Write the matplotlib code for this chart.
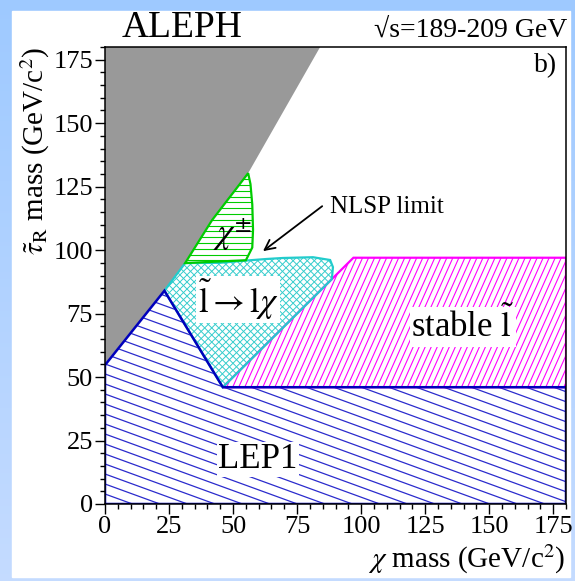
import numpy as np
import matplotlib
matplotlib.use('Agg')
import matplotlib.pyplot as plt
from matplotlib.patches import Polygon, Rectangle
from matplotlib.collections import LineCollection
from matplotlib.transforms import IdentityTransform

plt.rcParams['font.family'] = ['Liberation Serif', 'DejaVu Serif']
plt.rcParams['mathtext.fontset'] = 'stix'

# region outlines (chi mass, stau mass) in GeV/c^2
gray_x = [0, 23.4, 31.3, 41.8, 55.9, 84, 0]
gray_y = [54.7, 84.3, 94.9, 111.8, 130.3, 180, 180]

lep1_x = [0, 0, 23.2, 46, 180, 180]
lep1_y = [0, 54.7, 84.0, 46, 46, 0]

stable_x = [46, 97, 180, 180]
stable_y = [46, 97, 97, 46]

chargino_x = [31.3, 41.8, 55.9, 56.8, 57.5, 57.8, 57.5, 55.0, 31.3]
chargino_y = [94.9, 111.8, 130.3, 126.0, 118.0, 108.0, 101.0, 96.0, 94.9]

slep_x = [23.2, 31.3, 45.0, 56.6, 63.0, 69.5, 81.2, 87.9, 89.0, 88.7, 88.5, 46]
slep_y = [84.0, 94.9, 95.0, 96.0, 96.5, 96.9, 97.2, 96.1, 93.3, 90.0, 88.5, 46]

ticks = [0, 25, 50, 75, 100, 125, 150, 175]
nlsp_tail = (84.8, 117.3)
nlsp_head = (61.7, 99.6)

fig = plt.figure(figsize=(5.75, 5.81), dpi=100)

# blue frame round a white page
bg = fig.add_axes([0, 0, 1, 1])
grad = np.linspace(0, 1, 256).reshape(-1, 1)
top_c = np.array([0.62, 0.79, 1.0])
bot_c = np.array([0.77, 0.86, 1.0])
img = top_c[None, None, :] * (1 - grad[:, :, None]) + bot_c[None, None, :] * grad[:, :, None]
bg.imshow(img, aspect='auto', extent=[0, 1, 0, 1])
bg.add_patch(Rectangle((12 / 575, 4 / 581), 558 / 575, 566 / 581, color='white'))
bg.set_xlim(0, 1)
bg.set_ylim(0, 1)
bg.axis('off')

ax = fig.add_axes([105 / 575, 77 / 581, 461 / 575, 457 / 581])
ax.set_xlim(0, 180)
ax.set_ylim(0, 180)


def hatch(ax, patch, angle, spacing, color, lw):
    # straight hatch lines in pixel space, clipped to the patch
    bb = ax.bbox
    corners = np.array([[bb.x0, bb.y0], [bb.x1, bb.y0], [bb.x0, bb.y1], [bb.x1, bb.y1]])
    a = np.deg2rad(angle)
    d = np.array([np.cos(a), np.sin(a)])
    n = np.array([-np.sin(a), np.cos(a)])
    pn = corners @ n
    pd = corners @ d
    segs = []
    for o in np.arange(pn.min(), pn.max() + spacing, spacing):
        segs.append([o * n + pd.min() * d, o * n + pd.max() * d])
    lc = LineCollection(segs, colors=color, linewidths=lw, transform=IdentityTransform())
    lc.set_clip_path(patch)
    ax.add_collection(lc, autolim=False)


gray = Polygon(np.column_stack([gray_x, gray_y]), closed=True, fc='#999999', ec='none')
ax.add_patch(gray)

stable = Polygon(np.column_stack([stable_x, stable_y]), closed=True, fc='none', ec='#ff00ff', lw=1.6, zorder=3)
ax.add_patch(stable)
hatch(ax, stable, 66, 5.5, '#ff00ff', 0.8)

slep = Polygon(np.column_stack([slep_x, slep_y]), closed=True, fc='none', ec='#22cccc', lw=1.6, zorder=3)
ax.add_patch(slep)
hatch(ax, slep, 45, 5.0, '#33cccc', 0.7)
hatch(ax, slep, -45, 5.0, '#33cccc', 0.7)

chargino = Polygon(np.column_stack([chargino_x, chargino_y]), closed=True, fc='none', ec='#00cc00', lw=1.6, zorder=3)
ax.add_patch(chargino)
hatch(ax, chargino, 0, 5.8, '#00cc00', 0.8)

lep1 = Polygon(np.column_stack([lep1_x, lep1_y]), closed=True, fc='none', ec='#0000bb', lw=1.8, zorder=4)
ax.add_patch(lep1)
hatch(ax, lep1, -20, 9.4, '#2b2bcc', 0.9)

# labels
box = dict(fc='white', ec='none', pad=1)
ax.text(59.8, 14.2, 'LEP1', fontsize=25, ha='center', va='baseline', bbox=box, zorder=6)
ax.text(139.8, 65.7, r'stable $\tilde{\mathrm{l}}$', fontsize=25, ha='center', va='baseline', bbox=box, zorder=6)
ax.text(52, 75.2, r'$\tilde{\mathrm{l}}\rightarrow\mathrm{l}\chi$', fontsize=25, ha='center', va='baseline', bbox=box, zorder=6)
ax.text(42.2, 102.4, r'$\chi^{\pm}$', fontsize=25, ha='left', va='baseline', zorder=6)
ax.text(176.6, 170, 'b)', fontsize=20, ha='right', va='baseline')
ax.text(87.9, 114.6, 'NLSP limit', fontsize=18, va='baseline', ha='left', zorder=6)
ax.annotate('', xy=nlsp_head, xytext=nlsp_tail,
            arrowprops=dict(arrowstyle='->', color='black', lw=1.3, shrinkA=0, shrinkB=0, mutation_scale=18))

ax.set_xticks(ticks)
ax.set_yticks(ticks)
ax.set_xticks(np.arange(0, 181, 5), minor=True)
ax.set_yticks(np.arange(0, 181, 5), minor=True)
ax.tick_params(which='major', direction='out', length=7.2, width=1.0, labelsize=19, pad=1.5,
               top=False, right=False)
ax.tick_params(which='minor', direction='out', length=3.6, width=1.0, top=False, right=False)
for sp in ax.spines.values():
    sp.set_linewidth(1.1)
    sp.set_zorder(7)

fig.text(182 / 575, 1 - 37 / 581, 'ALEPH', fontsize=27, ha='center', va='baseline')
fig.text(567 / 575, 1 - 37 / 581, '\u221as=189-209 GeV', fontsize=20, ha='right', va='baseline')
fig.text(565 / 575, 5 / 581, r'$\chi$ mass (GeV/c$^2$)', fontsize=21, ha='right', va='bottom')
fig.text(35 / 575, 1 - 47 / 581, r'$\tilde{\tau}_{\mathrm{R}}$ mass (GeV/c$^2$)', fontsize=21,
         ha='center', va='top', rotation=90)

fig.savefig('out.png', dpi=100)
